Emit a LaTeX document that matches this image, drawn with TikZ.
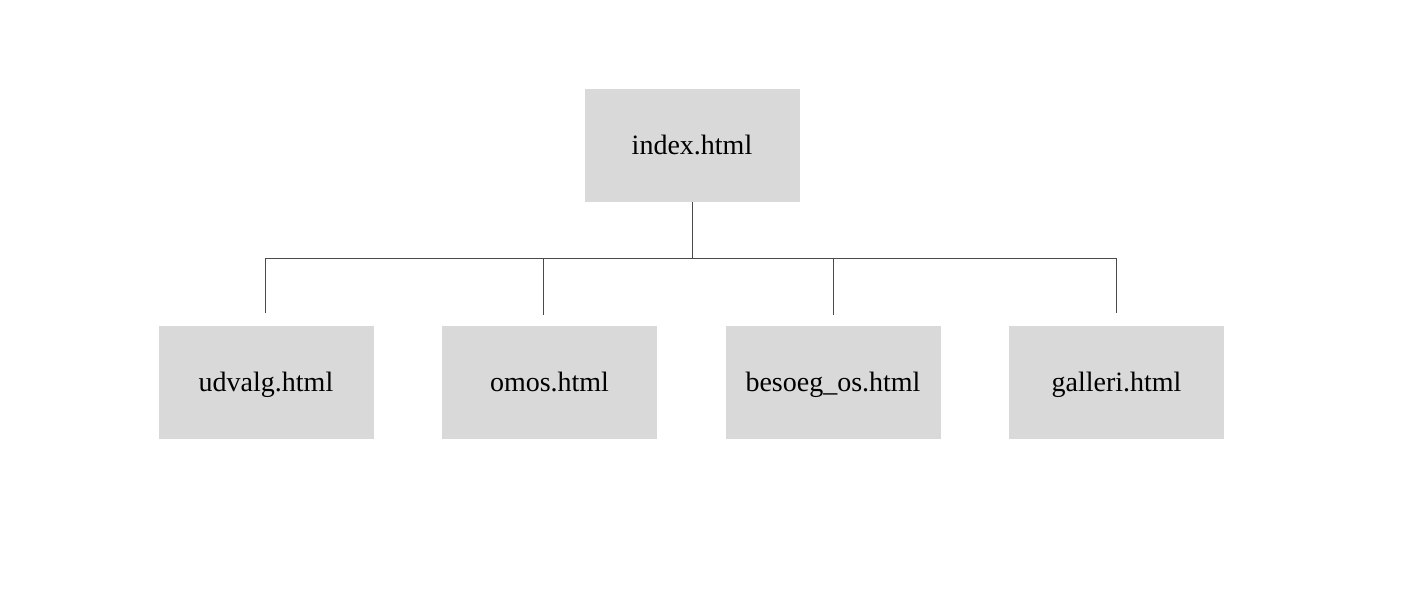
\documentclass[tikz,border=0pt]{standalone}
\usepackage{fontspec}
\setmainfont{Liberation Serif}
\definecolor{boxgray}{HTML}{D9D9D9}
\definecolor{linegray}{HTML}{4A4A4A}
\begin{document}
\begin{tikzpicture}[x=1pt,y=-1pt,
  page/.style={fill=boxgray,draw=none,minimum width=215pt,minimum height=113pt,inner sep=0pt,text height=24pt,text depth=6pt,font=\fontsize{28}{31}\selectfont},
  conn/.style={draw=linegray,line width=0.9pt}]
\useasboundingbox (0,0) rectangle (1410,595);
\node[page] (index) at (692,145.5) {index.html};
\node[page] (udvalg) at (266,382.5) {udvalg.html};
\node[page] (omos) at (549.5,382.5) {omos.html};
\node[page] (besoeg) at (833,382.5) {besoeg\_os.html};
\node[page] (galleri) at (1116.5,382.5) {galleri.html};
\coordinate (hub) at (692,258);
\coordinate (hl) at (265,258);
\coordinate (hr) at (1116,258);
\coordinate (e1) at (265,313);
\coordinate (t2) at (543,258);
\coordinate (e2) at (543,315);
\coordinate (t3) at (833,258);
\coordinate (e3) at (833,315);
\coordinate (e4) at (1116,313);
\draw[conn] (index.south) -- (hub);
\draw[conn] (e1) -- (hl) -- (hr) -- (e4);
\draw[conn] (t2) -- (e2);
\draw[conn] (t3) -- (e3);
\end{tikzpicture}
\end{document}
